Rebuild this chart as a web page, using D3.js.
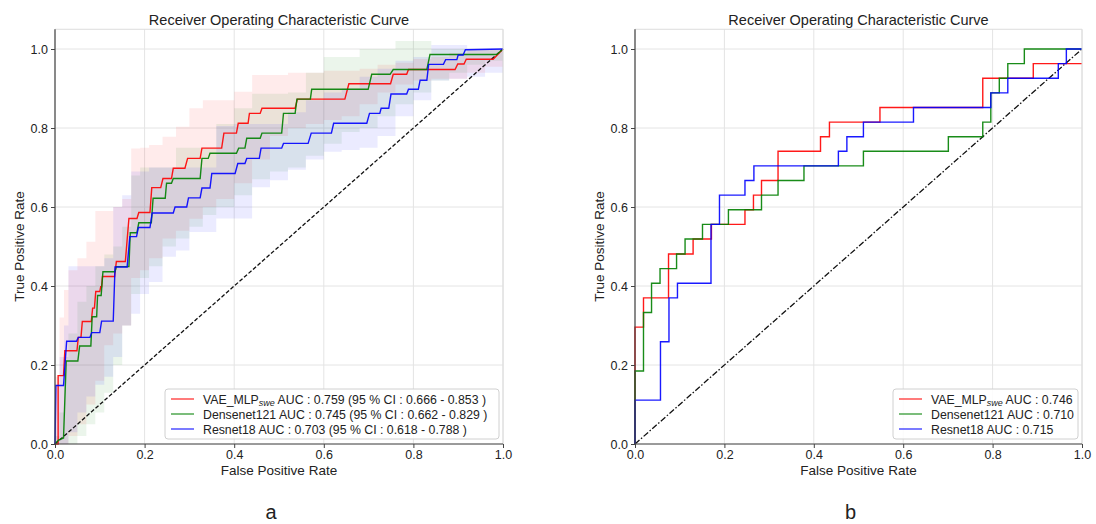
<!DOCTYPE html>
<html><head><meta charset="utf-8">
<script src="https://cdn.jsdelivr.net/npm/d3@7"></script>
<style>body{margin:0;background:#fff} text{font-family:"Liberation Sans",Arial,sans-serif;fill:#222}</style>
</head><body><svg id="c" width="1096" height="524"></svg>
<script>
// ---------- DATA ----------
const ticks = [0, 0.2, 0.4, 0.6, 0.8, 1.0];
const seriesNames = ["VAE_MLP", "Densenet121", "Resnet18"];
const seriesColors = ["#ff0000", "#008000", "#0000ff"];
const legendA = [" AUC : 0.759 (95 % CI : 0.666 - 0.853 )", " AUC : 0.745 (95 % CI : 0.662 - 0.829 )", " AUC : 0.703 (95 % CI : 0.618 - 0.788 )"];
const legendB = [" AUC : 0.746", " AUC : 0.710", " AUC : 0.715"];

// Panel a: mean ROC curves [fpr, tpr]
const aVae = [[0,0],[0.007,0],[0.007,0.173],[0.019,0.173],[0.022,0.236],[0.049,0.236],[0.052,0.270],[0.058,0.270],[0.061,0.310],[0.081,0.310],[0.084,0.344],[0.088,0.344],[0.091,0.386],[0.100,0.386],[0.102,0.398],[0.104,0.398],[0.106,0.424],[0.133,0.424],[0.137,0.462],[0.157,0.462],[0.165,0.571],[0.183,0.571],[0.187,0.586],[0.212,0.586],[0.216,0.649],[0.236,0.649],[0.241,0.672],[0.260,0.672],[0.264,0.698],[0.290,0.698],[0.296,0.723],[0.324,0.723],[0.328,0.749],[0.372,0.749],[0.377,0.787],[0.405,0.787],[0.409,0.812],[0.431,0.812],[0.434,0.837],[0.458,0.837],[0.462,0.850],[0.536,0.850],[0.541,0.873],[0.647,0.873],[0.656,0.912],[0.749,0.912],[0.755,0.936],[0.785,0.936],[0.789,0.948],[0.893,0.948],[0.899,0.962],[0.913,0.962],[0.918,0.974],[0.978,0.974],[1,1]];
const aDense = [[0,0],[0.008,0.01],[0.019,0.015],[0.025,0.21],[0.051,0.21],[0.055,0.248],[0.080,0.248],[0.083,0.322],[0.093,0.322],[0.095,0.376],[0.103,0.376],[0.107,0.436],[0.134,0.436],[0.137,0.449],[0.165,0.449],[0.168,0.535],[0.183,0.535],[0.187,0.56],[0.215,0.56],[0.219,0.622],[0.246,0.622],[0.249,0.66],[0.26,0.66],[0.264,0.672],[0.324,0.672],[0.328,0.723],[0.342,0.723],[0.346,0.736],[0.405,0.736],[0.41,0.749],[0.424,0.749],[0.428,0.774],[0.458,0.774],[0.462,0.787],[0.506,0.787],[0.51,0.837],[0.536,0.837],[0.54,0.873],[0.57,0.873],[0.573,0.898],[0.699,0.898],[0.707,0.936],[0.748,0.936],[0.755,0.948],[0.83,0.948],[0.837,0.986],[0.986,0.986],[1,1]];
const aRes = [[0,0],[0.002,0.148],[0.019,0.148],[0.026,0.26],[0.048,0.26],[0.052,0.27],[0.078,0.27],[0.082,0.282],[0.1,0.282],[0.104,0.311],[0.13,0.311],[0.134,0.448],[0.161,0.448],[0.167,0.525],[0.182,0.525],[0.186,0.548],[0.212,0.548],[0.217,0.585],[0.264,0.585],[0.268,0.6],[0.294,0.6],[0.298,0.623],[0.324,0.623],[0.328,0.648],[0.346,0.648],[0.35,0.685],[0.402,0.685],[0.408,0.71],[0.424,0.71],[0.428,0.723],[0.456,0.723],[0.46,0.749],[0.506,0.749],[0.51,0.761],[0.565,0.761],[0.572,0.787],[0.617,0.787],[0.622,0.812],[0.696,0.812],[0.702,0.837],[0.725,0.837],[0.728,0.85],[0.745,0.85],[0.75,0.886],[0.785,0.886],[0.789,0.898],[0.811,0.898],[0.815,0.921],[0.83,0.921],[0.834,0.961],[0.867,0.961],[0.872,0.973],[0.897,0.973],[0.9,0.985],[0.911,0.985],[0.916,0.998],[1,1]];

// Panel a: 95% CI bands
const bandFpr = [0,0.01,0.02,0.03,0.05,0.07,0.09,0.11,0.13,0.15,0.17,0.19,0.21,0.24,0.27,0.30,0.33,0.36,0.40,0.44,0.48,0.52,0.56,0.60,0.64,0.68,0.72,0.76,0.80,0.84,0.88,0.92,0.96,1.0];
const vaeUpper = [0.17,0.32,0.39,0.44,0.47,0.512,0.59,0.59,0.60,0.62,0.748,0.75,0.757,0.778,0.803,0.85,0.87,0.87,0.892,0.934,0.934,0.94,0.94,0.945,0.945,0.95,0.96,0.965,0.975,0.98,0.99,1.0,1.0,1.0];
const vaeLower = [0,0,0,0.02,0.05,0.1,0.16,0.25,0.28,0.3,0.42,0.44,0.47,0.52,0.54,0.57,0.6,0.62,0.66,0.72,0.78,0.8,0.81,0.82,0.83,0.86,0.89,0.91,0.92,0.925,0.925,0.94,0.955,0.96];
const denseUpper = [0.02,0.08,0.22,0.28,0.36,0.40,0.45,0.48,0.50,0.55,0.68,0.70,0.70,0.70,0.75,0.75,0.75,0.81,0.85,0.887,0.887,0.89,0.94,0.98,0.98,1.0,1.0,1.02,1.02,1.0,1.0,1.0,1.0,1.0];
const denseLower = [0,0,0,0,0.02,0.05,0.08,0.13,0.2,0.3,0.38,0.42,0.45,0.5,0.52,0.55,0.58,0.6,0.63,0.67,0.69,0.7,0.73,0.76,0.79,0.8,0.83,0.86,0.89,0.92,0.94,0.96,0.97,0.99];
const resUpper = [0.15,0.22,0.30,0.45,0.45,0.45,0.45,0.47,0.60,0.63,0.69,0.69,0.70,0.70,0.70,0.70,0.70,0.805,0.81,0.81,0.81,0.84,0.87,0.89,0.90,0.93,0.95,0.97,0.98,1.01,1.01,1.0,1.0,1.0];
const resLower = [0,0,0,0.03,0.08,0.12,0.15,0.17,0.22,0.3,0.33,0.38,0.41,0.474,0.49,0.537,0.537,0.571,0.571,0.65,0.668,0.694,0.72,0.74,0.744,0.75,0.78,0.83,0.87,0.92,0.925,0.93,0.94,0.95];

// Panel b: ROC curves [fpr, tpr]
const bVae = [[0,0],[0,0.296],[0.019,0.296],[0.019,0.370],[0.075,0.370],[0.075,0.481],[0.130,0.481],[0.130,0.519],[0.171,0.519],[0.171,0.556],[0.246,0.556],[0.246,0.593],[0.265,0.593],[0.265,0.630],[0.283,0.630],[0.283,0.667],[0.320,0.667],[0.320,0.741],[0.415,0.741],[0.415,0.778],[0.435,0.778],[0.435,0.815],[0.548,0.815],[0.548,0.852],[0.778,0.852],[0.778,0.926],[0.891,0.926],[0.891,0.963],[1,0.963]];
const bDense = [[0,0],[0,0.185],[0.019,0.185],[0.019,0.333],[0.037,0.333],[0.037,0.407],[0.056,0.407],[0.056,0.444],[0.093,0.444],[0.093,0.481],[0.112,0.481],[0.112,0.519],[0.151,0.519],[0.151,0.556],[0.209,0.556],[0.209,0.593],[0.283,0.593],[0.283,0.630],[0.320,0.630],[0.320,0.667],[0.378,0.667],[0.378,0.704],[0.511,0.704],[0.511,0.741],[0.701,0.741],[0.701,0.778],[0.778,0.778],[0.778,0.815],[0.796,0.815],[0.796,0.889],[0.815,0.889],[0.815,0.926],[0.834,0.926],[0.834,0.963],[0.871,0.963],[0.871,1],[1,1]];
const bRes = [[0,0],[0,0.111],[0.057,0.111],[0.057,0.259],[0.076,0.259],[0.076,0.370],[0.095,0.370],[0.095,0.407],[0.170,0.407],[0.170,0.556],[0.189,0.556],[0.189,0.630],[0.246,0.630],[0.246,0.667],[0.266,0.667],[0.266,0.704],[0.455,0.704],[0.455,0.741],[0.474,0.741],[0.474,0.778],[0.511,0.778],[0.511,0.815],[0.623,0.815],[0.623,0.852],[0.796,0.852],[0.796,0.889],[0.834,0.889],[0.834,0.926],[0.947,0.926],[0.947,0.963],[0.965,0.963],[0.965,1],[1,1]];
const diagonal = [[0,0],[1,1]];

// ---------- DRAW ----------
const svg = d3.select("#c");
const Y0 = 444, Y1 = 49;
const panels = [
  {left: 55, right: 503, tag: "a", curves: [aVae, aDense, aRes], legend: legendA, diagDash: "4,2",
   bands: [[vaeLower, vaeUpper], [denseLower, denseUpper], [resLower, resUpper]], legW: 334},
  {left: 635, right: 1082, tag: "b", curves: [bVae, bDense, bRes], legend: legendB, diagDash: "6,2,1.5,2",
   bands: null, legW: 185}
];

panels.forEach(p => {
  const x = d3.scaleLinear().domain([0, 1]).range([p.left, p.right]);
  const y = d3.scaleLinear().domain([0, 1]).range([Y0, Y1]);
  const yTop = y(1.05);
  const g = svg.append("g");

  // grid
  g.selectAll(".gx").data(ticks).join("line")
    .attr("x1", d => x(d)).attr("x2", d => x(d)).attr("y1", Y0).attr("y2", yTop)
    .attr("stroke", "#e4e4e4").attr("stroke-width", 1);
  g.selectAll(".gy").data(ticks).join("line")
    .attr("x1", p.left).attr("x2", p.right).attr("y1", d => y(d)).attr("y2", d => y(d))
    .attr("stroke", "#e4e4e4").attr("stroke-width", 1);

  // bands
  if (p.bands) {
    p.bands.forEach((b, i) => {
      const area = d3.area().curve(d3.curveStepAfter)
        .x((d, k) => x(bandFpr[k])).y0((d, k) => y(b[0][k])).y1((d, k) => y(b[1][k]));
      g.append("path").datum(bandFpr).attr("d", area)
        .attr("fill", seriesColors[i]).attr("fill-opacity", 0.08).attr("stroke", "none");
    });
  }

  const line = d3.line().x(d => x(d[0])).y(d => y(d[1]));
  // diagonal
  g.append("path").datum(diagonal).attr("d", line).attr("fill", "none")
    .attr("stroke", "#111").attr("stroke-width", 1.3).attr("stroke-dasharray", p.diagDash);
  // curves
  p.curves.forEach((c, i) => {
    g.append("path").datum(c).attr("d", line).attr("fill", "none")
      .attr("stroke", seriesColors[i]).attr("stroke-width", 1.4).attr("stroke-opacity", 0.9);
  });

  // spines
  g.append("line").attr("x1", p.left).attr("x2", p.right).attr("y1", yTop).attr("y2", yTop).attr("stroke", "#dcdcdc");
  g.append("line").attr("x1", p.right).attr("x2", p.right).attr("y1", yTop).attr("y2", Y0).attr("stroke", "#dcdcdc");
  g.append("line").attr("x1", p.left).attr("x2", p.left).attr("y1", yTop).attr("y2", Y0 + 0.5).attr("stroke", "#444").attr("stroke-width", 1.2);
  g.append("line").attr("x1", p.left - 0.5).attr("x2", p.right).attr("y1", Y0).attr("y2", Y0).attr("stroke", "#444").attr("stroke-width", 1.2);

  // axes
  const ax = g.append("g").attr("transform", `translate(0,${Y0})`)
    .call(d3.axisBottom(x).tickValues(ticks).tickFormat(d3.format(".1f")).tickSize(4).tickPadding(2));
  const ay = g.append("g").attr("transform", `translate(${p.left},0)`)
    .call(d3.axisLeft(y).tickValues(ticks).tickFormat(d3.format(".1f")).tickSize(4).tickPadding(3));
  [ax, ay].forEach(a => {
    a.select(".domain").remove();
    a.selectAll(".tick line").attr("stroke", "#444");
    a.selectAll("text").attr("font-size", 12.5).attr("font-family", '"Liberation Sans",Arial,sans-serif').attr("fill", "#222");
  });

  const cx = (p.left + p.right) / 2;
  g.append("text").attr("x", cx).attr("y", 25).attr("text-anchor", "middle").attr("font-size", 14.5)
    .text("Receiver Operating Characteristic Curve");
  g.append("text").attr("x", cx).attr("y", 475).attr("text-anchor", "middle").attr("font-size", 13.5)
    .text("False Positive Rate");
  g.append("text").attr("transform", `translate(${p.left - 31},${(Y0 + Y1) / 2}) rotate(-90)`)
    .attr("text-anchor", "middle").attr("font-size", 13.5).text("True Positive Rate");
  g.append("text").attr("x", cx - 8).attr("y", 519).attr("text-anchor", "middle").attr("font-size", 20)
    .attr("fill", "#000").text(p.tag);

  // legend
  const lx = p.right - 4 - p.legW, ly = 389;
  g.append("rect").attr("x", lx).attr("y", ly).attr("width", p.legW).attr("height", 50).attr("rx", 3)
    .attr("fill", "#fff").attr("fill-opacity", 0.85).attr("stroke", "#d0d0d0");
  seriesNames.forEach((n, i) => {
    const ry = ly + 10 + i * 15;
    g.append("line").attr("x1", lx + 6).attr("x2", lx + 29).attr("y1", ry).attr("y2", ry)
      .attr("stroke", seriesColors[i]).attr("stroke-width", 1.3).attr("stroke-opacity", 0.8);
    const t = g.append("text").attr("x", lx + 38).attr("y", ry + 4.5).attr("font-size", 12.3);
    t.append("tspan").text(n);
    if (i === 0) {
      t.append("tspan").attr("font-size", 9).attr("font-style", "italic").attr("dy", 2.5).text("swe");
      t.append("tspan").attr("dy", -2.5).text(p.legend[i]);
    } else {
      t.append("tspan").text(p.legend[i]);
    }
  });
});
</script></body></html>
